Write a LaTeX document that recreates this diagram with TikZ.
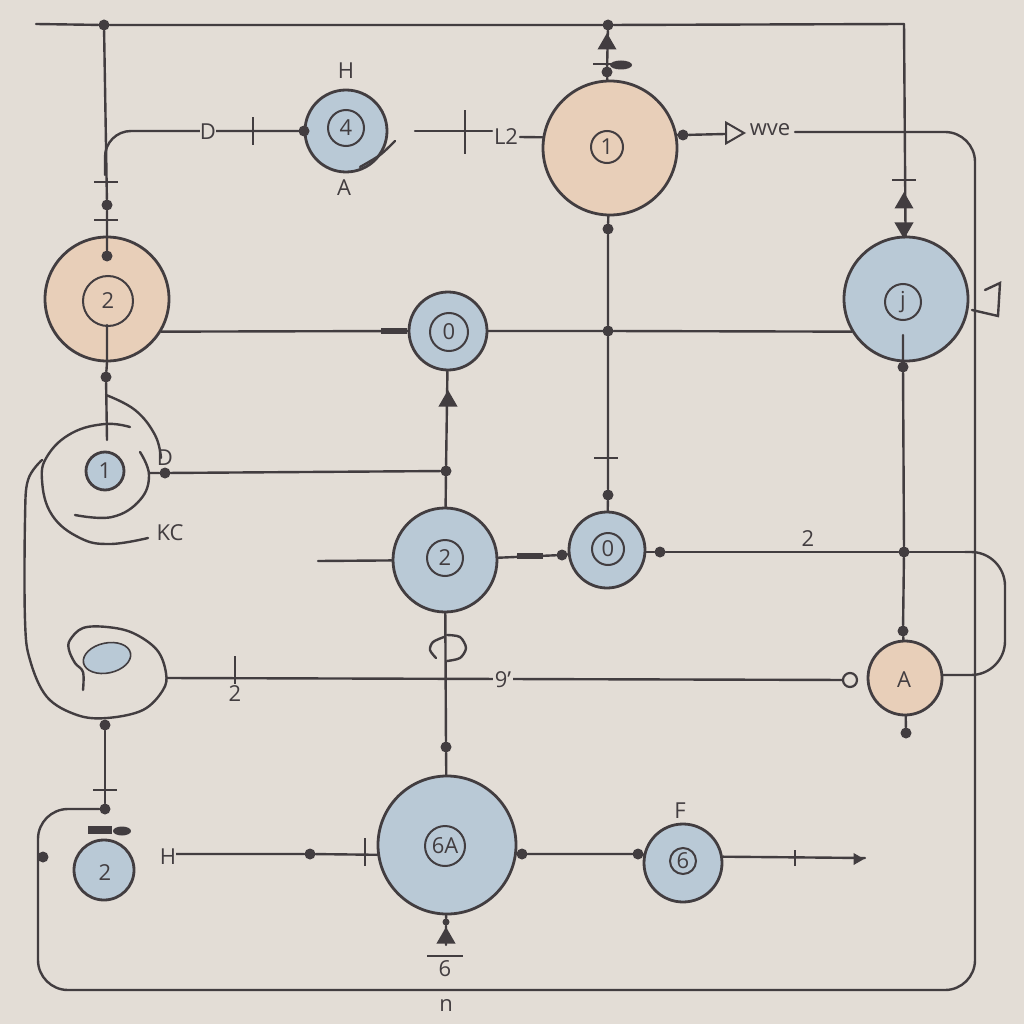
\documentclass[tikz,border=0pt]{standalone}
\usepackage{fontspec}
\setmainfont{Open Sans}
\usepackage{xcolor}
\usetikzlibrary{shapes.geometric}
\usetikzlibrary{arrows.meta}
\definecolor{paperc}{RGB}{227,221,214}
\definecolor{inkc}{RGB}{66,61,64}
\definecolor{bluec}{RGB}{185,201,214}
\definecolor{peachc}{RGB}{232,207,185}
\tikzstyle{wire}=[line width=2.4pt,draw=inkc,line cap=round]
\tikzstyle{disc}=[circle,draw=inkc,line width=2.8pt,inner sep=0pt]
\tikzstyle{bdisc}=[disc,fill=bluec]
\tikzstyle{pdisc}=[disc,fill=peachc]
\tikzstyle{ring}=[circle,draw=inkc,line width=2pt,inner sep=0pt,text=inkc]
\tikzstyle{joint}=[circle,fill=inkc,inner sep=0pt,minimum size=11pt]
\tikzstyle{htick}=[rectangle,fill=inkc,inner sep=0pt,minimum width=24pt,minimum height=2.4pt]
\tikzstyle{vtick}=[rectangle,fill=inkc,inner sep=0pt,minimum width=2.4pt,minimum height=28pt]
\tikzstyle{tri}=[regular polygon,regular polygon sides=3,fill=inkc,inner sep=0pt,minimum size=22pt]
\tikzstyle{leaf}=[ellipse,fill=inkc,inner sep=0pt,minimum width=22pt,minimum height=9pt]
\tikzstyle{lab}=[text=inkc,font=\fontsize{22}{24}\selectfont,inner sep=0pt]
\begin{document}
\begin{tikzpicture}[x=1pt,y=-1pt]
	\fill[paperc] (0,0) rectangle (1024,1024);
	\useasboundingbox (0,0) rectangle (1024,1024);
	% discs
	\node[bdisc,minimum size=82pt]  (n4)  at (346,131) {};
	\node[pdisc,minimum size=134pt] (n1)  at (610,148) {};
	\node[pdisc,minimum size=124pt] (n2)  at (107,299) {};
	\node[bdisc,minimum size=124pt] (n3)  at (906,299) {};
	\node[bdisc,minimum size=78pt]  (n5)  at (448,331) {};
	\node[bdisc,minimum size=38pt]  (n6)  at (105,471) {};
	\node[bdisc,minimum size=104pt] (n7)  at (445,560) {};
	\node[bdisc,minimum size=76pt]  (n8)  at (607,550) {};
	\node[pdisc,minimum size=74pt]  (n12) at (905,678) {};
	\node[bdisc,minimum size=138pt] (n9)  at (447,845) {};
	\node[bdisc,minimum size=78pt]  (n10) at (683,863) {};
	\node[bdisc,minimum size=60pt]  (n11) at (104,870) {};
	\node[ellipse,fill=bluec,draw=inkc,line width=1.6pt,minimum width=48pt,minimum height=30pt,rotate=12] (n13) at (107,658) {};
	% rings inside the discs
	\node[ring,minimum size=32pt,lab] (r1) at (607,147) {1};
	\node[ring,minimum size=50pt,lab] (r2) at (108,301) {2};
	\node[ring,minimum size=36pt,lab] (r3) at (903,302) {j};
	\node[ring,minimum size=36pt,lab] (r4) at (346,128) {4};
	\node[ring,minimum size=38pt,lab] (r5) at (449,332) {0};
	\node[ring,minimum size=36pt,lab] (r7) at (445,558) {2};
	\node[ring,minimum size=32pt,lab] (r8) at (608,549) {0};
	\node[ring,minimum size=40pt,lab] (r9) at (445,846) {6A};
	\node[ring,minimum size=26pt,lab] (r10) at (683,861) {6};
	\node[lab] (r11) at (105,873) {2};
	\node[lab] (r6)  at (105,471) {1};
	% joints
	\node[joint] (j1)  at (104,25) {};
	\node[joint] (j2)  at (608,25) {};
	\node[joint] (j3)  at (607,72) {};
	\node[joint] (j4)  at (107,205) {};
	\node[joint] (j5)  at (107,256) {};
	\node[joint] (j6)  at (304,131) {};
	\node[joint] (j7)  at (683,135) {};
	\node[joint] (j8)  at (608,229) {};
	\node[joint] (j9)  at (608,331) {};
	\node[joint] (j10) at (608,495) {};
	\node[joint] (j11) at (106,377) {};
	\node[joint] (j12) at (165,473) {};
	\node[joint] (j13) at (446,471) {};
	\node[joint] (j14) at (903,367) {};
	\node[joint] (j15) at (903,631) {};
	\node[joint] (j16) at (904,552) {};
	\node[joint] (j17) at (562,555) {};
	\node[joint] (j18) at (660,552) {};
	\node[joint] (j19) at (906,733) {};
	\node[joint] (j20) at (446,747) {};
	\node[joint] (j21) at (522,854) {};
	\node[joint] (j22) at (638,854) {};
	\node[joint] (j23) at (310,854) {};
	\node[joint] (j24) at (43,857) {};
	\node[joint] (j25) at (105,809) {};
	\node[joint] (j26) at (105,725) {};
	\node[joint,minimum size=7pt] (j28) at (446,922) {};
	\node[circle,draw=inkc,line width=2.2pt,fill=paperc,inner sep=0pt,minimum size=14pt] (j27) at (850,680) {};
	% free ends
	\coordinate (c1) at (36,24);
	\coordinate (c2) at (904,24);
	\coordinate (c3) at (105,131);
	\coordinate (c4) at (415,131);
	\coordinate (c4b) at (492,131);
	\coordinate (c5) at (520,137);
	\coordinate (c6) at (795,132);
	\coordinate (c7) at (975,132);
	\coordinate (c8) at (975,990);
	\coordinate (c9) at (38,990);
	\coordinate (c10) at (38,809);
	\coordinate (c11) at (318,561);
	\coordinate (c12) at (1005,552);
	\coordinate (c13) at (1005,675);
	\coordinate (c14) at (167,678);
	\coordinate (c15) at (865,858);
	\coordinate (c16) at (165,854);
	\coordinate (c17) at (107,440);
	\coordinate (c18) at (107,325);
	\coordinate (c19) at (903,335);
	\coordinate (c20) at (725,134);
	\coordinate (c21) at (105,175);
	% connectors
	\draw[wire] (c1) -- (j1) -- (j2) -- (c2);
	\draw[wire] (j1) -- (j4) -- (j5);
	\draw[wire] (j5) -- (n2.north);
	\draw[wire] (c2) -- (n3);
	\draw[wire,rounded corners=26pt] (c21) -- (c3) -- (j6);
	\draw[wire] (j6) -- (n4);
	\draw[wire] (c4) -- (c4b);
	\draw[wire] (c5) -- (n1.171);
	\draw[wire] (j2) -- (j3) -- (n1);
	\draw[wire] (n1) -- (j8) -- (j9) -- (j10) -- (n8);
	\draw[wire] (n1.11) -- (j7) -- (c20);
	\draw[wire,rounded corners=30pt] (c6) -- (c7) -- (c8) -- (c9) -- (c10) -- (j25);
	\draw[wire] (n2.-31) -- (n5.west);
	\draw[wire] (n5) -- (j9) -- (n3.-149);
	\draw[wire] (c18) -- (n2.south) -- (j11) -- (c17);
	\draw[wire] (149,473) -- (j12) -- (j13);
	\draw[wire] (n5) -- (j13) -- (n7);
	\draw[wire] (c11) -- (n7);
	\draw[wire] (n7) -- (j17) -- (n8);
	\draw[wire] (n8.east |- j18) -- (j18) -- (j16) -- (965,552);
	\draw[wire,rounded corners=34pt] (965,552) -- (c12) -- (c13) -- (n12.east |- c13);
	\draw[wire] (c19) -- (j14) -- (j16) -- (j15) -- (n12);
	\draw[wire] (n12) -- (j19);
	\draw[wire] (c14) -- (j27);
	\draw[wire] (n7) -- (j20) -- (n9);
	\draw[wire] (n9.-7) -- (j21) -- (j22) -- (n10.168);
	\draw[wire] (n10.9) -- (c15);
	\draw[wire] (c16) -- (j23) -- (n9.-172);
	\draw[wire] (j26) -- (j25);
	\draw[wire] (n9) -- (j28) -- (446,945);
	% the open rings and loops on the left
	\draw[wire] plot[smooth,tension=.7] coordinates {(130,427)(105,424)(72,433)(48,455)(42,480)(52,515)(80,538)(110,544)(148,538)};
	\draw[wire] plot[smooth,tension=.7] coordinates {(140,452)(149,475)(140,500)(112,517)(75,515)};
	\draw[wire] plot[smooth,tension=.7] coordinates {(106,395)(135,410)(155,435)(161,458)};
	\draw[wire] plot[smooth,tension=.6] coordinates {(42,460)(28,480)(25,520)(25,620)(30,660)(47,697)(77,715)(107,718)(143,710)(163,690)(166,673)(157,650)(133,633)(107,627)(83,628)(70,640)(69,650)(75,663)(83,672)(83,690)};
	\draw[wire] plot[smooth] coordinates {(444,637)(433,642)(430,650)(436,658)};
	\draw[wire] plot[smooth] coordinates {(447,635)(460,637)(466,648)(460,658)(447,661)};
	\draw[wire] plot[smooth] coordinates {(395,141)(380,155)(360,167)};
	\draw[wire] (972,310) -- (998,316) -- (1000,283) -- (985,290);
	% ticks and arrow heads
	\node[htick] (t1) at (106,182) {};
	\node[htick] (t2) at (106,220) {};
	\node[vtick] (t3) at (253,131) {};
	\node[vtick,minimum height=44pt] (t4) at (465,132) {};
	\node[tri,draw=inkc,line width=2pt,fill=paperc,minimum size=24pt,shape border rotate=-90] (t5) at (732,133) {};
	\node[htick] (t6) at (605,64) {};
	\node[htick] (t7) at (904,180) {};
	\node[htick] (t8) at (606,458) {};
	\node[vtick] (t9) at (235,670) {};
	\node[vtick,minimum height=16pt] (t10) at (795,858) {};
	\node[vtick] (t11) at (365,852) {};
	\node[htick] (t12) at (105,790) {};
	\node[htick,minimum width=36pt] (t13) at (445,956) {};
	\node[htick,minimum height=6pt,minimum width=26pt] (t14) at (394,331) {};
	\node[htick,minimum height=6pt,minimum width=26pt] (t15) at (530,556) {};
	\node[htick,minimum height=8pt,minimum width=24pt] (t16) at (100,830) {};
	\node[leaf] (f1) at (621,65) {};
	\node[leaf,minimum width=18pt] (f2) at (122,831) {};
	\node[tri] (a1) at (607,44) {};
	\node[tri] (a2) at (904,203) {};
	\node[tri,shape border rotate=180] (a3) at (904,228) {};
	\node[tri] (a4) at (448,401) {};
	\node[tri] (a5) at (446,938) {};
	\node[tri,shape border rotate=-90,minimum size=14pt] (a6) at (857,859) {};
	% labels
	\node[lab] (l1)  at (346,71)  {H};
	\node[lab] (l2)  at (344,188) {A};
	\node[lab,fill=paperc] (l3)  at (208,132) {D};
	\node[lab,fill=paperc] (l4)  at (506,137) {L2};
	\node[lab] (l5)  at (770,130) {wve};
	\node[lab] (l6)  at (165,458) {D};
	\node[lab] (l7)  at (170,533) {KC};
	\node[lab] (l8)  at (808,539) {2};
	\node[lab] (l9)  at (235,694) {2};
	\node[lab,fill=paperc,inner sep=2pt] (l10) at (503,680) {9'};
	\node[lab] (l11) at (904,680) {A};
	\node[lab] (l12) at (680,811) {F};
	\node[lab,fill=paperc] (l13) at (168,857) {H};
	\node[lab] (l14) at (445,969) {6};
	\node[lab] (l15) at (446,1005) {n};
\end{tikzpicture}
\end{document}
